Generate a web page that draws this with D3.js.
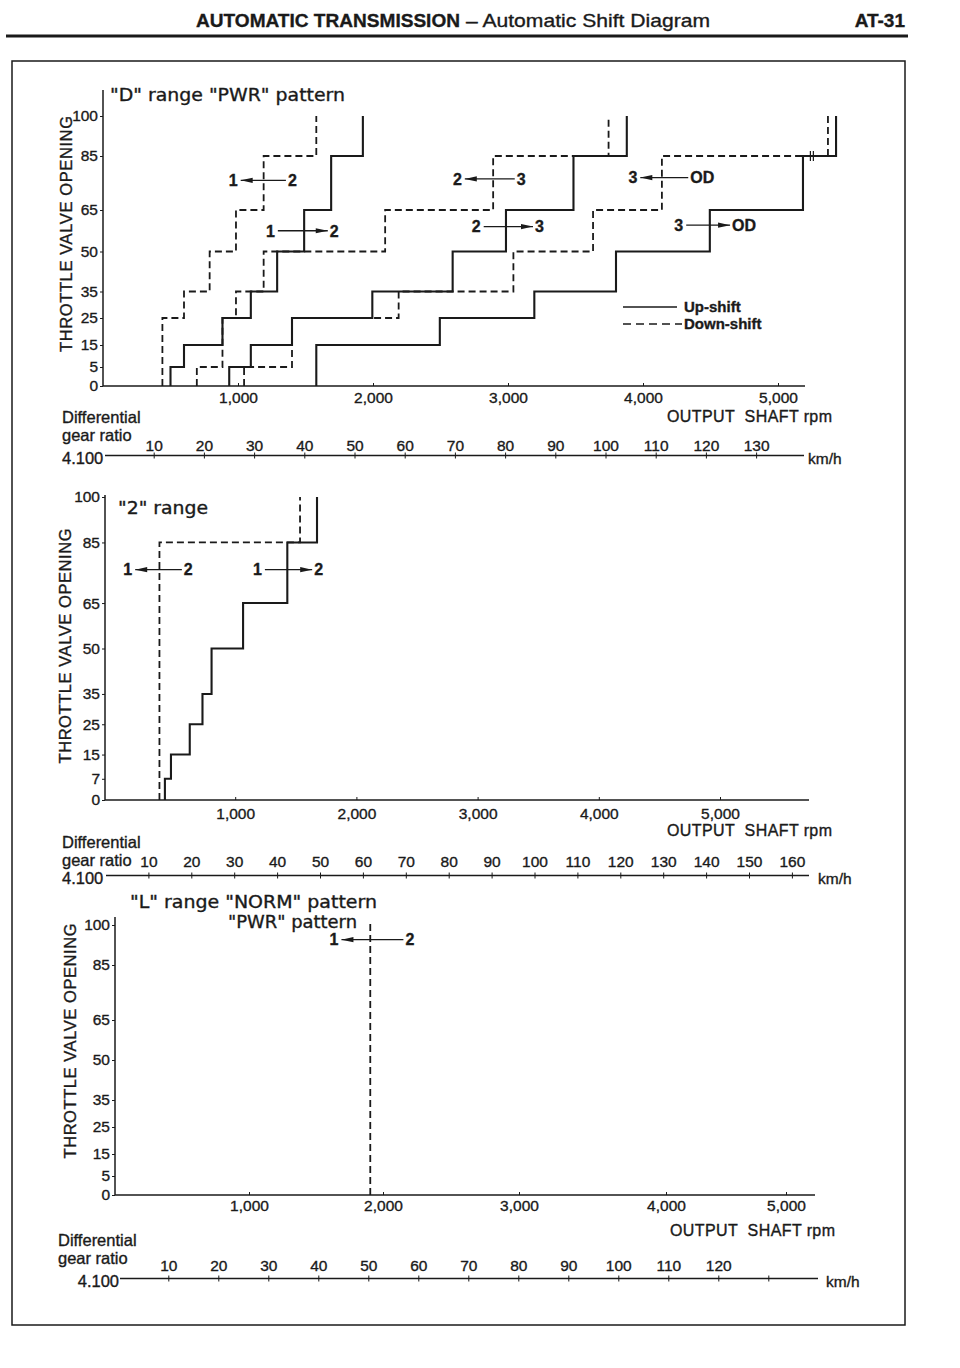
<!DOCTYPE html>
<html>
<head>
<meta charset="utf-8">
<script src="https://cdn.jsdelivr.net/npm/d3@7"></script>
<style>
  body { margin: 0; background: #fff; }
  svg { display: block; }
  text { stroke: #1a1a1a; stroke-width: 0.35px; }
</style>
</head>
<body>
<svg id="chart" width="960" height="1368"></svg>
<script>
// ---- data ----
// shift points: rpm where each step rises, and the throttle levels (%) between steps

// "D" range "PWR" pattern
const d12DownRpm = [440, 600, 790, 985, 1190, 1580];
const d12DownThr = [0, 25, 35, 50, 65, 85, 100];
const d12UpRpm = [500, 600, 885, 1095, 1290, 1490, 1690, 1925];
const d12UpThr = [0, 5, 15, 25, 35, 50, 65, 85, 100];
const d23DownRpm = [695, 885, 985, 1190, 2090, 2890, 3745];
const d23DownThr = [0, 5, 25, 35, 50, 65, 85, 100];
const d23UpRpm = [935, 1095, 1400, 1995, 2590, 2985, 3485, 3880];
const d23UpThr = [0, 5, 15, 25, 35, 50, 65, 85, 100];
const d3odDownRpm = [1045, 1400, 2190, 3040, 3630, 4140, 5370];
const d3odDownThr = [0, 5, 25, 35, 50, 65, 85, 100];
const d3odUpRpm = [1580, 2495, 3195, 3800, 4495, 5185, 5430];
const d3odUpThr = [0, 15, 25, 35, 50, 65, 85, 100];
// small break marks drawn on the 85 % line near the right edge
const dBreakRpm = [5240, 5262];

// "2" range
const r2DownRpm = [375, 1535];
const r2DownThr = [0, 85, 100];
const r2UpRpm = [420, 470, 625, 730, 805, 1065, 1430, 1675];
const r2UpThr = [0, 7, 15, 25, 35, 50, 65, 85, 100];

// "L" range, "PWR" pattern
const lDownRpm = [1905];
const lDownThr = [0, 101];

// arrow labels: [left, right, upshift?, rpm start, rpm end, throttle]
const dArrows = [
  ["1", "2", false, 1020, 1355, 76],
  ["1", "2", true, 1295, 1665, 57.5],
  ["2", "3", false, 2680, 3050, 76.5],
  ["2", "3", true, 2820, 3185, 59],
  ["3", "OD", false, 3980, 4335, 77],
  ["3", "OD", true, 4320, 4645, 59.5]
];
const r2Arrows = [
  ["1", "2", false, 175, 560, 76],
  ["1", "2", true, 1245, 1635, 76]
];
const lArrows = [
  ["1", "2", false, 1690, 2150, 94.5]
];

// tick labels
const thrTicks = [0, 5, 15, 25, 35, 50, 65, 85, 100];
const thrTicks2 = [0, 7, 15, 25, 35, 50, 65, 85, 100];
const rpmTicks = [1000, 2000, 3000, 4000, 5000];
const kmhTicks13 = [10, 20, 30, 40, 50, 60, 70, 80, 90, 100, 110, 120, 130];
const kmhTicks16 = [10, 20, 30, 40, 50, 60, 70, 80, 90, 100, 110, 120, 130, 140, 150, 160];

// ---- drawing ----
const svg = d3.select("#chart");
const ink = "#1a1a1a";
const sans = "'Liberation Sans', Arial, sans-serif";
const wide = "'DejaVu Sans', 'Liberation Sans', sans-serif";

svg.append("rect").attr("width", 960).attr("height", 1368).attr("fill", "#fff");

// page header
svg.append("text").attr("x", 196).attr("y", 27)
  .attr("font-family", sans).attr("font-size", 19).attr("font-weight", "bold")
  .attr("fill", ink).attr("textLength", 264).attr("lengthAdjust", "spacingAndGlyphs")
  .text("AUTOMATIC TRANSMISSION");
svg.append("text").attr("x", 466).attr("y", 27)
  .attr("font-family", sans).attr("font-size", 19)
  .attr("fill", ink).attr("textLength", 244).attr("lengthAdjust", "spacingAndGlyphs")
  .text("\u2013 Automatic Shift Diagram");
svg.append("text").attr("x", 905).attr("y", 27).attr("text-anchor", "end")
  .attr("font-family", sans).attr("font-size", 19).attr("font-weight", "bold")
  .attr("fill", ink).text("AT-31");
svg.append("line").attr("x1", 6).attr("x2", 908).attr("y1", 36).attr("y2", 36)
  .attr("stroke", ink).attr("stroke-width", 3);
svg.append("rect").attr("x", 12).attr("y", 61).attr("width", 893).attr("height", 1264)
  .attr("fill", "none").attr("stroke", ink).attr("stroke-width", 1.5);

function stepPoints(rpm, thr) {
  const pts = [];
  rpm.forEach((r, i) => { pts.push([r, thr[i]], [r, thr[i + 1]]); });
  return pts;
}

function drawChart(c) {
  const g = svg.append("g").attr("fill", ink).attr("font-family", sans);
  // the printed scales are slightly uneven, so they follow the printed tick positions
  const x = d3.scaleLinear().domain(c.xDomain).range(c.xRange);
  const y = d3.scaleLinear().domain(c.yDomain).range(c.yRange);
  const y0 = y(0);

  // y axis
  g.append("line").attr("x1", c.axisX).attr("x2", c.axisX).attr("y1", c.top).attr("y2", y0)
    .attr("stroke", ink).attr("stroke-width", 1.5);
  const ya = g.append("g").attr("transform", `translate(${c.axisX},0)`)
    .call(d3.axisLeft(y).tickValues(c.thrTicks).tickSize(3).tickPadding(2));
  ya.select(".domain").remove();
  ya.attr("color", ink).attr("font-size", 15.5).attr("font-family", sans);

  g.append("text")
    .attr("transform", `translate(${c.title.x},${c.title.y}) rotate(-90)`)
    .attr("text-anchor", "middle").attr("dy", "0.36em")
    .attr("font-size", 16.5).attr("textLength", c.title.len).attr("lengthAdjust", "spacing")
    .text("THROTTLE VALVE OPENING");

  // rpm axis
  g.append("line").attr("x1", c.axisX).attr("x2", c.axisEnd).attr("y1", y0).attr("y2", y0)
    .attr("stroke", ink).attr("stroke-width", 1.5);
  const xa = g.append("g").attr("transform", `translate(0,${y0})`)
    .call(d3.axisBottom(x).tickValues(rpmTicks).tickSize(-3).tickFormat(d3.format(",")));
  xa.select(".domain").remove();
  xa.attr("color", ink).attr("font-size", 15.5).attr("font-family", sans);
  xa.selectAll("text").attr("y", c.rpmLabelY - y0).attr("dy", "0.36em");

  g.append("text").attr("x", c.outX).attr("y", c.outY).attr("dy", "0.36em")
    .attr("text-anchor", "end").attr("font-size", 16).style("white-space", "pre")
    .attr("textLength", 165).attr("lengthAdjust", "spacing")
    .text("OUTPUT  SHAFT rpm");

  // km/h axis
  const k = d3.scaleLinear().domain([0, 10]).range([c.k0, c.k0 + c.k10]);
  g.append("line").attr("x1", c.kStart).attr("x2", c.kEnd).attr("y1", c.kY).attr("y2", c.kY)
    .attr("stroke", ink).attr("stroke-width", 1.3);
  const ka = g.append("g").attr("transform", `translate(0,${c.kY})`)
    .call(d3.axisBottom(k).tickValues(c.kTicks).tickSize(3)
      .tickFormat(d => d <= c.kLabelMax ? d : ""));
  ka.select(".domain").remove();
  ka.attr("color", ink).attr("font-size", 15.5).attr("font-family", sans);
  ka.selectAll(".tick line").attr("y1", -3).attr("y2", 3);
  ka.selectAll("text").attr("y", c.kLabelY - c.kY).attr("dy", "0.36em");
  g.append("text").attr("x", c.kTextX).attr("y", c.kY + 3).attr("dy", "0.36em")
    .attr("font-size", 15.5).text("km/h");

  g.append("text").attr("x", c.diffX).attr("y", c.diffY).attr("dy", "0.36em")
    .attr("font-size", 16.5).text("Differential");
  g.append("text").attr("x", c.diffX).attr("y", c.diffY + 18).attr("dy", "0.36em")
    .attr("font-size", 16.5).text("gear ratio");
  g.append("text").attr("x", c.ratioX).attr("y", c.ratioY).attr("dy", "0.36em")
    .attr("text-anchor", c.ratioAnchor).attr("font-size", 16.5).text("4.100");

  // chart titles
  c.heads.forEach(h => {
    g.append("text").attr("x", h.x).attr("y", h.y).attr("dy", "0.36em")
      .attr("font-family", wide).attr("font-size", 17.5)
      .attr("textLength", h.len).attr("lengthAdjust", "spacingAndGlyphs")
      .text(h.text);
  });

  // shift lines
  const line = d3.line().x(d => x(d[0])).y(d => y(d[1]));
  c.lines.forEach(l => {
    g.append("path").attr("d", line(stepPoints(l.rpm, l.thr)))
      .attr("fill", "none").attr("stroke", ink)
      .attr("stroke-width", l.dash ? 1.8 : 2.1)
      .attr("stroke-dasharray", l.dash ? "7,4" : null);
  });

  if (c.breaks) {
    g.selectAll(".brk").data(c.breaks).join("line")
      .attr("x1", d => x(d)).attr("x2", d => x(d))
      .attr("y1", y(85) - 5).attr("y2", y(85) + 5)
      .attr("stroke", ink).attr("stroke-width", 1.2);
  }

  // arrows
  c.arrows.forEach(([a, b, up, r0, r1, t]) => {
    const xa0 = x(r0), xa1 = x(r1), yy = y(t);
    g.append("line").attr("x1", xa0).attr("x2", xa1).attr("y1", yy).attr("y2", yy)
      .attr("stroke", ink).attr("stroke-width", 1.3);
    const tip = up ? xa1 : xa0, dir = up ? -1 : 1;
    g.append("path")
      .attr("d", `M${tip},${yy}L${tip + dir * 12},${yy - 2.6}L${tip + dir * 12},${yy + 2.6}Z`)
      .attr("fill", ink);
    g.append("text").attr("x", xa0 - 3).attr("y", yy).attr("dy", "0.36em")
      .attr("text-anchor", "end").attr("font-size", 16).attr("font-weight", "bold").text(a);
    g.append("text").attr("x", xa1 + 2).attr("y", yy).attr("dy", "0.36em")
      .attr("font-size", 16).attr("font-weight", "bold").text(b);
  });

  if (c.legend) {
    const lg = c.legend;
    g.append("line").attr("x1", lg.x).attr("x2", lg.x + 54).attr("y1", lg.y).attr("y2", lg.y)
      .attr("stroke", ink).attr("stroke-width", 1.3);
    g.append("line").attr("x1", lg.x).attr("x2", lg.x + 59).attr("y1", lg.y + 17).attr("y2", lg.y + 17)
      .attr("stroke", ink).attr("stroke-width", 1.3).attr("stroke-dasharray", "8,5");
    g.append("text").attr("x", lg.x + 61).attr("y", lg.y).attr("dy", "0.36em")
      .attr("font-size", 15).attr("font-weight", "bold").text("Up-shift");
    g.append("text").attr("x", lg.x + 61).attr("y", lg.y + 17).attr("dy", "0.36em")
      .attr("font-size", 15).attr("font-weight", "bold").text("Down-shift");
  }
}

drawChart({
  top: 90, axisX: 103, axisEnd: 805,
  xDomain: [0, 5000], xRange: [103, 778],
  yDomain: thrTicks, yRange: [386, 367, 345, 318, 291.5, 251.5, 210, 156, 116],
  thrTicks: thrTicks, rpmLabelY: 397,
  title: { x: 66, y: 234, len: 236 },
  outX: 832, outY: 416,
  k0: 103.5, k10: 50.2, kY: 455.5, kStart: 105, kEnd: 804, kTicks: kmhTicks13, kLabelMax: 130,
  kLabelY: 445, kTextX: 808,
  diffX: 62, diffY: 417, ratioX: 62, ratioY: 458, ratioAnchor: "start",
  heads: [{ x: 110, y: 95, len: 235, text: '"D" range "PWR" pattern' }],
  lines: [
    { rpm: d12DownRpm, thr: d12DownThr, dash: true },
    { rpm: d12UpRpm, thr: d12UpThr, dash: false },
    { rpm: d23DownRpm, thr: d23DownThr, dash: true },
    { rpm: d23UpRpm, thr: d23UpThr, dash: false },
    { rpm: d3odDownRpm, thr: d3odDownThr, dash: true },
    { rpm: d3odUpRpm, thr: d3odUpThr, dash: false }
  ],
  breaks: dBreakRpm,
  arrows: dArrows,
  legend: { x: 623, y: 307 }
});

drawChart({
  top: 495, axisX: 105, axisEnd: 809,
  xDomain: [0, 5000], xRange: [114, 720],
  yDomain: [0, 100], yRange: [800, 497],
  thrTicks: thrTicks2, rpmLabelY: 813,
  title: { x: 65, y: 646, len: 235 },
  outX: 832, outY: 830,
  k0: 105.5, k10: 42.9, kY: 875.5, kStart: 106, kEnd: 809, kTicks: kmhTicks16, kLabelMax: 160,
  kLabelY: 861, kTextX: 818,
  diffX: 62, diffY: 842, ratioX: 62, ratioY: 878, ratioAnchor: "start",
  heads: [{ x: 118, y: 508, len: 90, text: '"2" range' }],
  lines: [
    { rpm: r2DownRpm, thr: r2DownThr, dash: true },
    { rpm: r2UpRpm, thr: r2UpThr, dash: false }
  ],
  arrows: r2Arrows
});

drawChart({
  top: 917, axisX: 115, axisEnd: 815,
  xDomain: [0, 1000, 2000, 3000, 4000, 5000], xRange: [115, 249, 383, 519, 666, 786],
  yDomain: thrTicks, yRange: [1195, 1176, 1154, 1127, 1100, 1060, 1020, 965, 925],
  thrTicks: thrTicks, rpmLabelY: 1205,
  title: { x: 70, y: 1041, len: 235 },
  outX: 835, outY: 1230,
  k0: 118.3, k10: 50, kY: 1278.5, kStart: 120, kEnd: 818, kTicks: kmhTicks13, kLabelMax: 120,
  kLabelY: 1265, kTextX: 826,
  diffX: 58, diffY: 1240, ratioX: 119, ratioY: 1281, ratioAnchor: "end",
  heads: [
    { x: 130, y: 902, len: 247, text: '"L" range "NORM" pattern' },
    { x: 228, y: 922, len: 129, text: '"PWR" pattern' }
  ],
  lines: [
    { rpm: lDownRpm, thr: lDownThr, dash: true }
  ],
  arrows: lArrows
});
</script>
</body>
</html>
